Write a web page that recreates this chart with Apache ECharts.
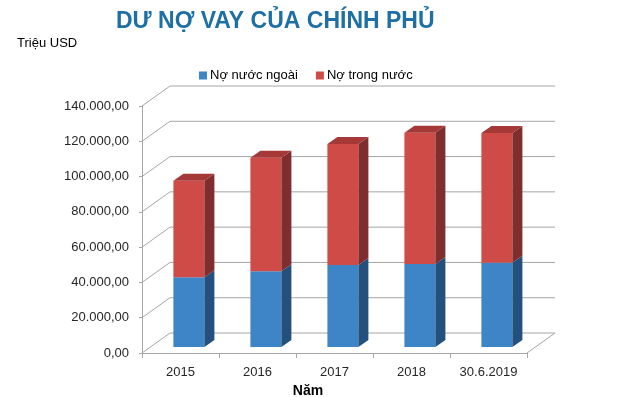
<!DOCTYPE html>
<html>
<head>
<meta charset="utf-8">
<script src="https://cdn.jsdelivr.net/npm/echarts@6/dist/echarts.min.js"></script>
<style>
html,body{margin:0;padding:0;background:#fff;}
#chart{width:640px;height:397px;}
</style>
</head>
<body>
<div id="chart"></div>
<script>
var categories = ['2015', '2016', '2017', '2018', '30.6.2019'];
var foreignDebt = [39500, 42900, 46500, 47100, 47800];
var domesticDebt = [54800, 64400, 68600, 74400, 73500];
var yTicks = [0, 20000, 40000, 60000, 80000, 100000, 120000, 140000];

var WALL_DX = 28, WALL_DY = -20;   // depth of the chart box
var BAR_T = 0.3;                   // bar front plane position in depth
var BAR_DX = 10, BAR_DY = -7;      // bar depth
var BAR_W = 31;

var chart = echarts.init(document.getElementById('chart'));

function wallItem(params, api) {
  var cs = params.coordSys;
  var v = api.value(0);
  var y = api.coord([0, v])[1];
  var x0 = cs.x, x1 = cs.x + cs.width;
  var style = {stroke: '#a6a6a6', lineWidth: 1, fill: null};
  var children = [
    {type: 'line', shape: {x1: x0, y1: y, x2: x0 + WALL_DX, y2: y + WALL_DY}, style: style},
    {type: 'line', shape: {x1: x0 + WALL_DX, y1: y + WALL_DY, x2: x1 + WALL_DX, y2: y + WALL_DY}, style: style}
  ];
  if (v === 0) {
    children.push({type: 'line', shape: {x1: x1, y1: y, x2: x1 + WALL_DX, y2: y + WALL_DY}, style: style});
  }
  return {type: 'group', children: children};
}

function makeBarRenderer(front, side, top, drawTop) {
  return function (params, api) {
    var i = api.value(0);
    var lo = api.value(1), hi = api.value(2);
    var pLo = api.coord([i, lo]);
    var pHi = api.coord([i, hi]);
    var ox = WALL_DX * BAR_T, oy = WALL_DY * BAR_T;
    var xl = pLo[0] + ox - BAR_W / 2, xr = xl + BAR_W;
    var yb = pLo[1] + oy, yt = pHi[1] + oy;
    var children = [
      {type: 'rect', shape: {x: xl, y: yt, width: BAR_W, height: yb - yt}, style: {fill: front}},
      {type: 'polygon', shape: {points: [[xr, yb], [xr + BAR_DX, yb + BAR_DY], [xr + BAR_DX, yt + BAR_DY], [xr, yt]]}, style: {fill: side}}
    ];
    if (drawTop) {
      children.push({type: 'polygon', shape: {points: [[xl, yt], [xl + BAR_DX, yt + BAR_DY], [xr + BAR_DX, yt + BAR_DY], [xr, yt]]}, style: {fill: top}});
    }
    return {type: 'group', children: children};
  };
}

var blueData = categories.map(function (c, i) { return [i, 0, foreignDebt[i]]; });
var redData = categories.map(function (c, i) { return [i, foreignDebt[i], foreignDebt[i] + domesticDebt[i]]; });
var wallData = yTicks.map(function (v) { return [v]; });

chart.setOption({
  animation: false,
  textStyle: {fontFamily: 'Liberation Sans, Arial, sans-serif'},
  title: [{
    text: 'DƯ NỢ VAY CỦA CHÍNH PHỦ',
    left: 111, top: 5,
    textStyle: {fontFamily: 'Liberation Sans, Arial, sans-serif', fontWeight: 'bold', fontSize: 23, color: '#1d6fa5'}
  }, {
    text: 'Triệu USD',
    left: 12, top: 32,
    textStyle: {fontFamily: 'Liberation Sans, Arial, sans-serif', fontWeight: 'normal', fontSize: 13, color: '#000'}
  }],
  legend: {
    left: 194, top: 64,
    itemWidth: 8, itemHeight: 8, itemGap: 18,
    icon: 'rect',
    textStyle: {fontSize: 13, color: '#000', padding: [0, 0, 0, -2]},
    data: ['Nợ nước ngoài', 'Nợ trong nước']
  },
  grid: {left: 142, right: 113, top: 106, bottom: 44, outerBoundsMode: 'none', containLabel: false},
  xAxis: {
    type: 'category',
    data: categories,
    boundaryGap: true,
    axisLine: {show: true, lineStyle: {color: '#a6a6a6'}},
    axisTick: {show: true, length: 5, lineStyle: {color: '#a6a6a6'}},
    axisLabel: {fontSize: 13, color: '#262626', margin: 13},
    name: 'Năm',
    nameLocation: 'middle',
    nameGap: 30,
    nameTextStyle: {fontWeight: 'bold', fontSize: 14, color: '#000', padding: [0, 0, 0, -53]}
  },
  yAxis: {
    type: 'value',
    min: 0, max: 140000, interval: 20000,
    axisLine: {show: true, lineStyle: {color: '#a6a6a6'}},
    axisTick: {show: true, length: 3, lineStyle: {color: '#a6a6a6'}},
    splitLine: {show: false},
    axisLabel: {
      fontSize: 13, color: '#262626', margin: 13,
      formatter: function (v) {
        var s = String(v).replace(/\B(?=(\d{3})+(?!\d))/g, '.');
        return s + ',00';
      }
    }
  },
  series: [{
    type: 'custom',
    name: 'walls',
    renderItem: wallItem,
    data: wallData,
    encode: {y: 0},
    z: 1,
    silent: true,
    legendHoverLink: false
  }, {
    type: 'custom',
    name: 'Nợ nước ngoài',
    renderItem: makeBarRenderer('#3d85c6', '#24507e', '#2f6aa0', false),
    data: blueData,
    encode: {x: 0, y: [1, 2]},
    itemStyle: {color: '#3d85c6'},
    z: 3
  }, {
    type: 'custom',
    name: 'Nợ trong nước',
    renderItem: makeBarRenderer('#ce4b48', '#7f2e2d', '#a43938', true),
    data: redData,
    encode: {x: 0, y: [1, 2]},
    itemStyle: {color: '#ce4b48'},
    z: 3
  }]
});
</script>
</body>
</html>
